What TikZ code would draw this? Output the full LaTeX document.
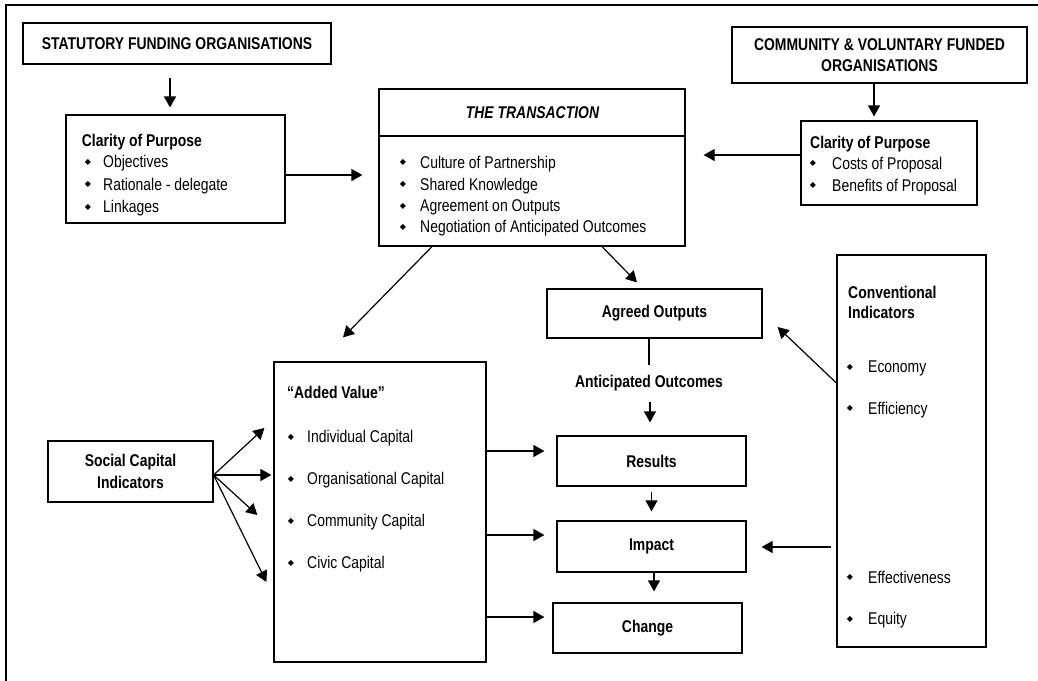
\documentclass[tikz,border=0pt]{standalone}
\usepackage{fontspec}
\setmainfont[FakeStretch=0.82]{Liberation Sans}
\newfontfamily\dejavu{DejaVu Sans}
\usetikzlibrary{arrows.meta,calc}
\begin{document}
\begin{tikzpicture}[x=1pt,y=-1pt,
  box/.style={draw, line width=1.2pt, inner sep=0pt, align=center,
    font=\fontsize{17}{20.5}\selectfont\bfseries},
  txt/.style={inner sep=0pt, anchor=base west, font=\fontsize{17}{20}\selectfont},
  hd/.style={inner sep=0pt, anchor=base west, font=\fontsize{17}{20}\selectfont\bfseries},
  bul/.style={inner sep=0pt, font=\dejavu\fontsize{8}{8}\selectfont},
  arr/.style={line width=1.2pt, -{Triangle[length=11pt,width=12pt]}},
  ln/.style={line width=1.2pt}]
\useasboundingbox (0,0) rectangle (1038,680);
% outer frame
\draw[line width=1.8pt] (1040,5) -- (6,5) -- (6,682);

% boxes
\node[box, minimum width=308pt, minimum height=41pt] (stat) at (177,43.5) {STATUTORY FUNDING ORGANISATIONS};
\node[box, minimum width=295pt, minimum height=56pt] (comm) at (879.5,55) {COMMUNITY \& VOLUNTARY FUNDED\\ORGANISATIONS};
\node[box, minimum width=219pt, minimum height=108pt] (clar1) at (175.5,169) {};
\node[box, minimum width=306pt, minimum height=157pt] (trans) at (532,167.5) {};
\node[box, minimum width=176pt, minimum height=84pt] (clar2) at (889,163) {};
\node[box, minimum width=215pt, minimum height=49pt] (agreed) at (654.5,313.5) {Agreed Outputs};
\node[inner sep=0pt, font=\fontsize{17}{20}\selectfont\bfseries] (antic) at (649,383) {Anticipated Outcomes};
\node[box, minimum width=189pt, minimum height=50pt] (results) at (651.5,461) {Results};
\node[box, minimum width=189pt, minimum height=51pt] (impact) at (651.5,546.5) {Impact};
\node[box, minimum width=189pt, minimum height=50pt] (change) at (647.5,628) {Change};
\node[box, minimum width=149pt, minimum height=392pt] (conv) at (911.5,451) {};
\node[box, minimum width=212pt, minimum height=300pt] (added) at (380,512) {};
\node[box, minimum width=165pt, minimum height=61pt, font=\fontsize{17}{21.5}\selectfont\bfseries] (social) at (130.5,471.5) {Social Capital\\Indicators};

% transaction divider
\draw[ln] (trans.west |- 0,136) -- (trans.east |- 0,136);

% clarity 1 contents
\node[hd] (c1t) at (81.7,146.7) {Clarity of Purpose};
\node[bul] (c1b1) at (88,162) {◆};
\node[txt] (c1i1) at (103,167.5) {Objectives};
\node[bul] (c1b2) at (88,184.5) {◆};
\node[txt] (c1i2) at (103,190) {Rationale - delegate};
\node[bul] (c1b3) at (88,207) {◆};
\node[txt] (c1i3) at (103,212.5) {Linkages};

% clarity 2 contents
\node[hd] (c2t) at (810,148) {Clarity of Purpose};
\node[bul] (c2b1) at (813,163.5) {◆};
\node[txt] (c2i1) at (832,169) {Costs of Proposal};
\node[bul] (c2b2) at (813,185.5) {◆};
\node[txt] (c2i2) at (832,191) {Benefits of Proposal};

% transaction contents
\node[inner sep=0pt, anchor=base, font=\fontsize{17}{20}\selectfont\bfseries\itshape] (tt) at (532.5,118.3) {THE TRANSACTION};
\node[bul] (tb1) at (403,162.8) {◆};
\node[txt] (ti1) at (420,168.3) {Culture of Partnership};
\node[bul] (tb2) at (403,184.5) {◆};
\node[txt] (ti2) at (420,190) {Shared Knowledge};
\node[bul] (tb3) at (403,206) {◆};
\node[txt] (ti3) at (420,211.5) {Agreement on Outputs};
\node[bul] (tb4) at (403,227) {◆};
\node[txt] (ti4) at (420,232.5) {Negotiation of Anticipated Outcomes};

% added value contents
\node[hd] (avt) at (287,398.3) {“Added Value”};
\node[bul] (avb1) at (291,437) {◆};
\node[txt] (avi1) at (307,442.5) {Individual Capital};
\node[bul] (avb2) at (291,479) {◆};
\node[txt] (avi2) at (307,484.5) {Organisational Capital};
\node[bul] (avb3) at (291,521) {◆};
\node[txt] (avi3) at (307,526.5) {Community Capital};
\node[bul] (avb4) at (291,563) {◆};
\node[txt] (avi4) at (307,568.5) {Civic Capital};

% conventional indicators contents
\node[hd] (cvt1) at (848,298) {Conventional};
\node[hd] (cvt2) at (848,318) {Indicators};
\node[bul] (cvb1) at (850,367.2) {◆};
\node[txt] (cvi1) at (868,372.7) {Economy};
\node[bul] (cvb2) at (850,408.8) {◆};
\node[txt] (cvi2) at (868,414.3) {Efficiency};
\node[bul] (cvb3) at (850,577.8) {◆};
\node[txt] (cvi3) at (868,583.3) {Effectiveness};
\node[bul] (cvb4) at (850,619) {◆};
\node[txt] (cvi4) at (868,624.5) {Equity};

% connectors
\draw[arr] ($(stat.south)+(-7,13)$) -- ($(clar1.north)+(-5.5,-7)$);
\draw[arr] ($(clar1.east)+(0,6)$) -- ($(trans.west)+(-16,7.5)$);
\draw[arr] ($(comm.south)+(-5.5,0)$) -- ($(clar2.north)+(-15,-4)$);
\draw[arr] ($(clar2.west)+(0,-8)$) -- ($(trans.east)+(18,-12.5)$);
\draw[arr] ($(trans.south)+(-100,0)$) -- ($(added.north)+(-37,-24)$);
\draw[arr] ($(trans.south)+(70,0)$) -- ($(agreed.north)+(-17.5,-6)$);
\draw[ln] ($(agreed.south)+(-5.5,0)$) -- ($(antic.center)+(0,-18)$);
\draw[arr] ($(antic.center)+(1,19)$) -- ($(results.north)+(-1.5,-13)$);
\draw[arr] ($(results.south)+(0,5)$) -- ($(impact.north)+(0,-9)$);
\draw[arr] ($(impact.south)+(2.5,0)$) -- ($(change.north)+(6.5,-11)$);
\draw[arr] ($(conv.west)+(0,-68)$) -- ($(agreed.east)+(15,13.5)$);
\draw[arr] ($(conv.west)+(-5,96)$) -- ($(impact.east)+(15,0.5)$);
\draw[arr] ($(added.east)+(0,-61)$) -- ($(results.west)+(-12,-10)$);
\draw[arr] ($(added.east)+(0,23)$) -- ($(impact.west)+(-12,-11.5)$);
\draw[arr] ($(added.east)+(0,105)$) -- ($(change.west)+(-8,-11)$);
\draw[arr] ($(social.east)+(0,3.5)$) -- ($(added.west)+(-9,-84)$);
\draw[arr] ($(social.east)+(0,3.5)$) -- ($(added.west)+(-2,-37)$);
\draw[arr] ($(social.east)+(0,3.5)$) -- ($(added.west)+(-16,3)$);
\draw[arr] ($(social.east)+(0,3.5)$) -- ($(added.west)+(-7,70)$);
\end{tikzpicture}
\end{document}
